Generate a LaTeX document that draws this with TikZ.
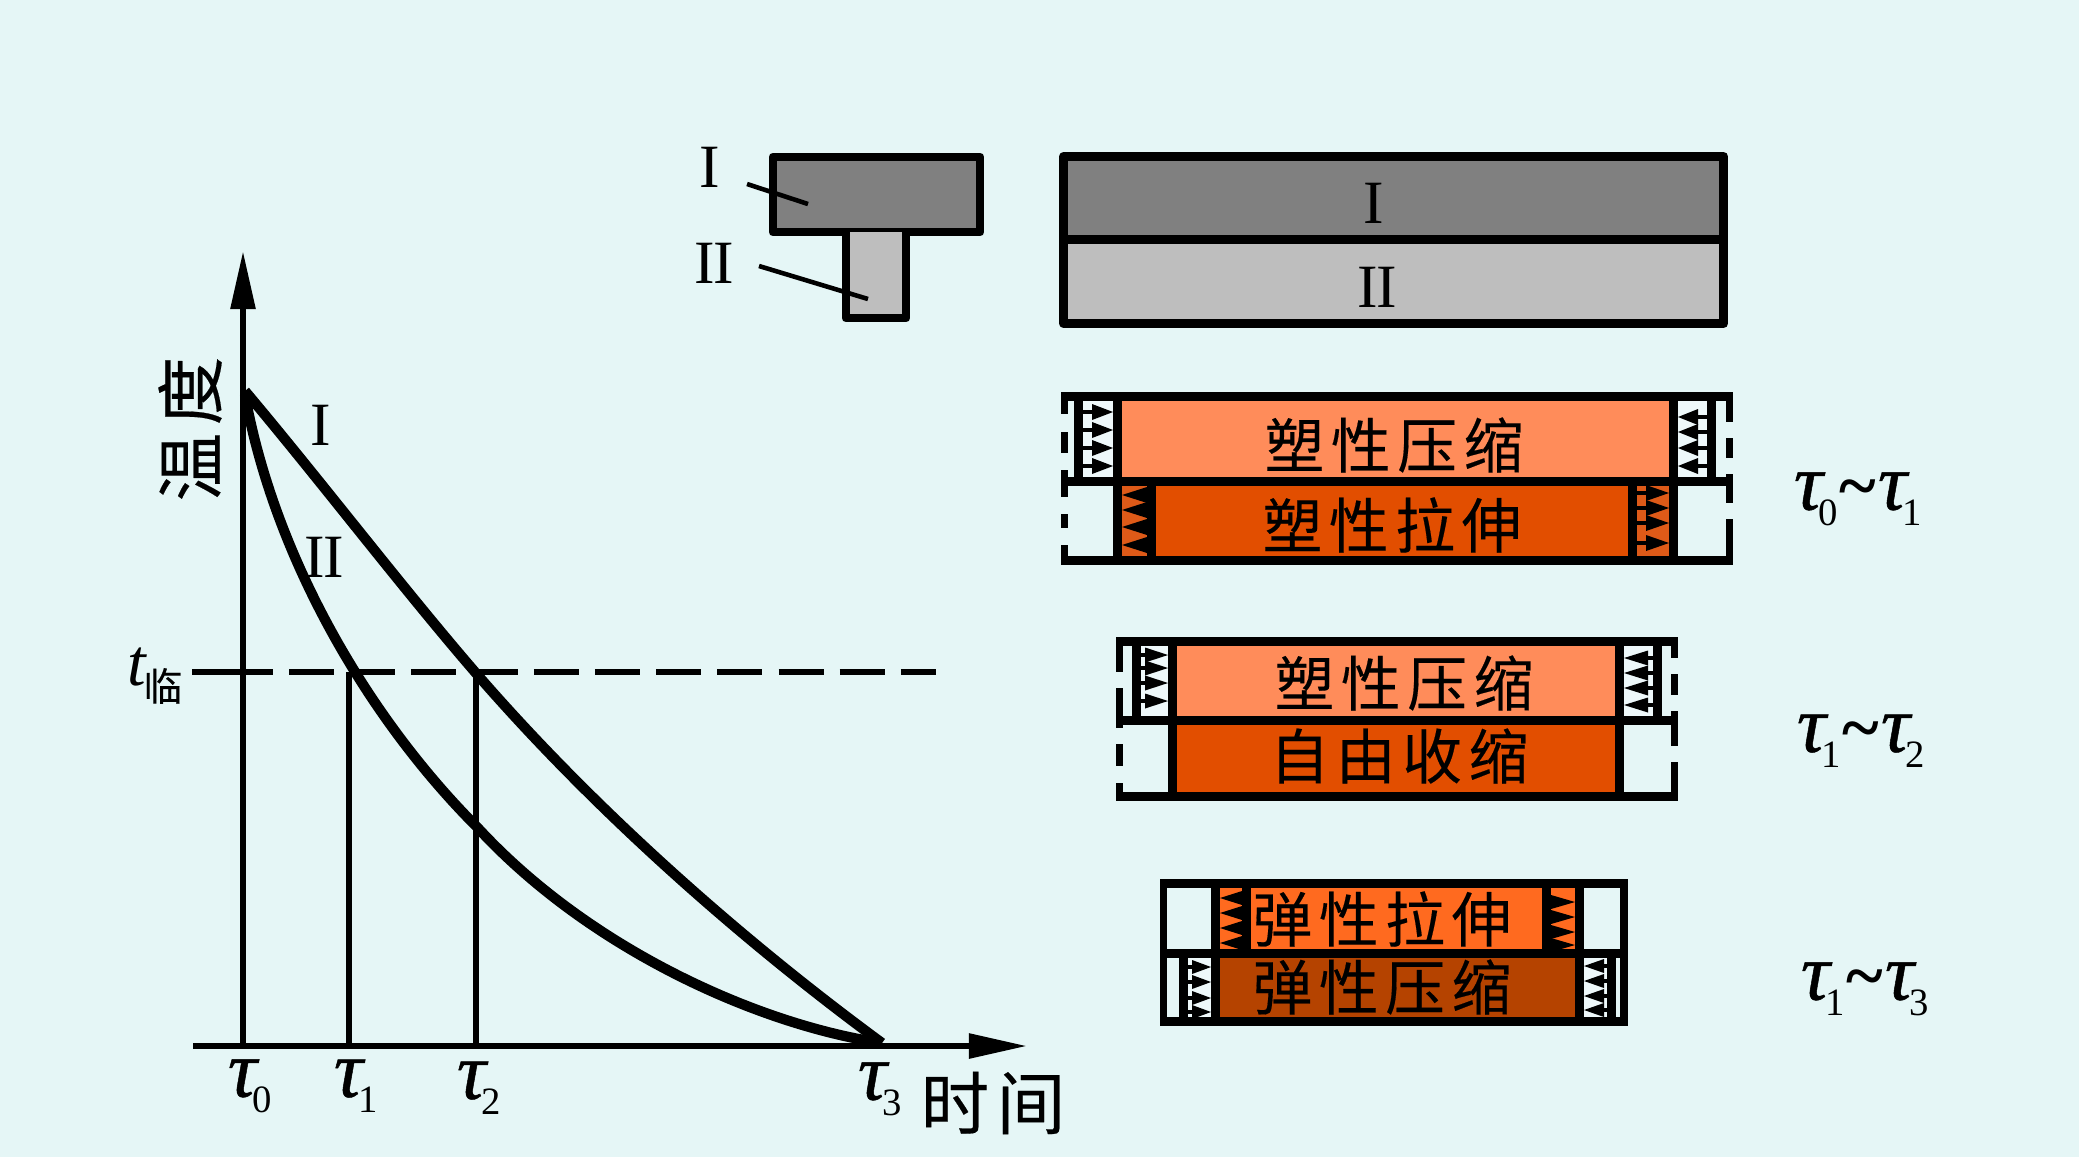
\documentclass[tikz,border=0pt]{standalone}
\usepackage{fontspec}
\setmainfont{Liberation Serif}
\newfontfamily\cjkfont[LetterSpace=11,FakeBold=0.25]{Noto Sans CJK SC}
\newfontfamily\taufont[FakeBold=0.6]{Liberation Serif Italic}
\usetikzlibrary{arrows.meta}
\definecolor{bgcolor}{HTML}{E5F6F6}
\definecolor{springbg}{HTML}{EEF8FA}
\definecolor{darkgray}{HTML}{808080}
\definecolor{lightgray}{HTML}{BEBEBE}
\definecolor{paleorange}{HTML}{FF8C5A}
\definecolor{deeporange}{HTML}{E24E00}
\definecolor{springorange}{HTML}{DE5A18}
\definecolor{brightorange}{HTML}{FF6A1F}
\definecolor{brownorange}{HTML}{B54300}
\tikzset{
	romanlabel/.style={font=\fontsize{17.5}{18}\selectfont, inner sep=0pt}
}
\tikzset{
	blocktext/.style={font=\fontsize{17}{18}\cjkfont, inner sep=0pt}
}
\tikzset{
	axistext/.style={font=\fontsize{19.5}{20}\cjkfont, inner sep=0pt}
}
\tikzset{
	taulabel/.style={font=\fontsize{23}{24}\selectfont, inner sep=0pt}
}
\tikzset{
	axisline/.style={line width=1.7pt, -{Triangle[length=1.65pt*10, width=0.68pt*10]}}
}
\tikzset{
	thinline/.style={line width=1.7pt}
}
\tikzset{
	curveline/.style={line width=2.9pt, line join=round}
}
\tikzset{
	boxline/.style={line width=2.55pt, line join=round}
}
\tikzset{
	leaderline/.style={line width=1.3pt}
}
\newcommand{\tauof}[1]{{\taufont τ}\kern-0.05em\raisebox{-0.42ex}{\fontsize{11}{12}\selectfont #1}}
\newcommand{\waveof}{\kern0.02em{\bfseries\fontsize{20}{22}\selectfont\textasciitilde}\kern0.02em}
\newcommand{\doubleone}{I\kern-0.03em I}
\newcommand{\springrow}[5]{%
	\foreach \sy in {#5} {
		\draw[line width=0.9pt] (#1,\sy) -- (#2,\sy);
		\fill (#2,\sy-#4) -- (#3,\sy) -- (#2,\sy+#4) -- cycle;
	}
}
\newcommand{\wallrow}[3]{%
	\foreach \ya/\yb in {#3} {
		\fill (#1,\ya) rectangle (#2,\yb);
	}
}
\begin{document}
\begin{tikzpicture}[x=0.01cm, y=-0.01cm]

	\useasboundingbox (0,0) rectangle (2079,1157);
	\fill[bgcolor] (0,0) rectangle (2079,1157);

	\coordinate (origin) at (243,1046);
	\coordinate (ytop) at (243,251);
	\coordinate (xleft) at (193,1046);
	\coordinate (xright) at (1027,1046);
	\coordinate (tone) at (349,672);
	\coordinate (ttwo) at (476,672);
	\coordinate (tonefoot) at (349,1046);
	\coordinate (ttwofoot) at (476,1046);
	\coordinate (dashstart) at (192,672);
	\coordinate (dashbreak) at (273,672);
	\coordinate (dashresume) at (289,672);
	\coordinate (dashend) at (936,672);

	\draw[thinline] (tone) -- (tonefoot);
	\draw[thinline] (ttwo) -- (ttwofoot);
	\draw[thinline] (dashstart) -- (dashbreak);
	\draw[thinline, dash pattern=on 12.8pt off 4.6pt] (dashresume) -- (dashend);

	\draw[curveline] (245,391) .. controls (320,480) and (400,585) .. (475,672) .. controls (590,805) and (735,935) .. (882,1043);
	\draw[curveline] (245,395) .. controls (275,560) and (370,720) .. (477,827) .. controls (590,950) and (760,1025) .. (882,1043);

	\draw[axisline] (origin) -- (ytop);
	\draw[axisline] (xleft) -- (xright);

	\node[axistext, rotate=90] (ylabel) at (190,429) {温度};
	\node[axistext] (xlabel) at (993,1103) {时间};
	\node[romanlabel] (curveone) at (321,425) {I};
	\node[romanlabel] (curvetwo) at (324,557) {\doubleone};
	\node[taulabel] (tau0) at (250,1086) {\tauof{0}};
	\node[taulabel] (tau1) at (356,1086) {\tauof{1}};
	\node[taulabel] (tau2) at (479,1088) {\tauof{2}};
	\node[taulabel] (tau3) at (880,1089) {\tauof{3}};
	\node[font=\fontsize{19}{20}\selectfont\itshape, inner sep=0pt] (tlabel) at (137,667) {t};
	\node[font=\fontsize{11}{12}\cjkfont, inner sep=0pt] (tsub) at (163,686) {临};

	\draw[boxline, fill=darkgray] (769+4,153+4) rectangle (984-4,236-4);
	\fill[lightgray] (846,232) rectangle (906,318);
	\draw[boxline] (846,232) -- (846,318) -- (906,318) -- (906,232);

	\node[romanlabel] (sectionone) at (710,167) {I};
	\node[romanlabel] (sectiontwo) at (714,263) {\doubleone};
	\coordinate (leaderonea) at (747,184);
	\coordinate (leaderoneb) at (808,204);
	\coordinate (leadertwoa) at (759,266);
	\coordinate (leadertwob) at (868,299);
	\draw[leaderline] (leaderonea) -- (leaderoneb);
	\draw[leaderline] (leadertwoa) -- (leadertwob);

	\fill[darkgray] (1063,156) rectangle (1723,240);
	\fill[lightgray] (1063,240) rectangle (1723,324);
	\draw[boxline] (1063.5,156.5) rectangle (1723.5,323.5);
	\draw[boxline] (1063.5,239.5) -- (1723.5,239.5);
	\node[romanlabel] (layerone) at (1374,203) {I};
	\node[romanlabel] (layertwo) at (1377,287) {\doubleone};

	\fill[paleorange] (1122,401) rectangle (1669,477);
	\fill[deeporange] (1156,486) rectangle (1628,556);
	\fill[springbg] (1083,401) rectangle (1113,477);
	\fill[springbg] (1678,401) rectangle (1707,477);
	\fill[springorange] (1122,486) rectangle (1147,556);
	\fill[springorange] (1637,486) rectangle (1669,556);
	\fill (1061,392) rectangle (1733,401);
	\fill (1061,477) rectangle (1733,486);
	\fill (1061,556) rectangle (1733,565);
	\wallrow{1061}{1068}{392/414,432/453,470/497,514/528,545/565}
	\wallrow{1726}{1733}{392/422,438/458,474/503,519/565}
	\fill (1074,401) rectangle (1083,477);
	\fill (1113,401) rectangle (1122,477);
	\fill (1669,401) rectangle (1678,477);
	\fill (1707,401) rectangle (1716,477);
	\fill (1113,486) rectangle (1122,556);
	\fill (1147,486) rectangle (1156,556);
	\fill (1628,486) rectangle (1637,556);
	\fill (1669,486) rectangle (1678,556);
	\springrow{1083}{1092}{1113}{8}{412,430,448,466}
	\springrow{1707}{1698}{1678}{8}{417,432,448,466}
	\springrow{1147}{1147}{1122}{8}{495,510,527,545}
	\springrow{1637}{1646}{1669}{8}{493,508,523,543}
	\node[blocktext] (plasticcomp) at (1394,445) {塑性压缩};
	\node[blocktext] (plastictens) at (1392,525) {塑性拉伸};
	\node[taulabel] (stageone) at (1858,499) {\tauof{0}\waveof\tauof{1}};

	\fill[paleorange] (1177,646) rectangle (1615,716);
	\fill[deeporange] (1177,725) rectangle (1615,792);
	\fill[springbg] (1141,646) rectangle (1168,716);
	\fill[springbg] (1624,646) rectangle (1653,716);
	\fill (1116,637) rectangle (1678,646);
	\fill (1116,716) rectangle (1678,725);
	\fill (1116,792) rectangle (1678,801);
	\wallrow{1116}{1123}{637/672,688/728,744/766,783/801}
	\wallrow{1671}{1678}{637/658,674/695,711/746,762/801}
	\fill (1132,646) rectangle (1141,716);
	\fill (1168,646) rectangle (1177,792);
	\fill (1615,646) rectangle (1624,792);
	\fill (1653,646) rectangle (1662,716);
	\springrow{1141}{1145}{1168}{7.5}{655,668,683,701}
	\springrow{1653}{1648}{1624}{7.5}{658,673,688,705}
	\node[blocktext] (plasticcomptwo) at (1404,683) {塑性压缩};
	\node[blocktext] (freeshrink) at (1399,756) {自由收缩};
	\node[taulabel] (stagetwo) at (1861,741) {\tauof{1}\waveof\tauof{2}};

	\fill[brightorange] (1220,888) rectangle (1575,949);
	\fill[brownorange] (1220,958) rectangle (1575,1017);
	\fill[springbg] (1188,958) rectangle (1211,1017);
	\fill[springbg] (1584,958) rectangle (1607,1017);
	\fill (1160,879) rectangle (1628,888);
	\fill (1160,949) rectangle (1628,958);
	\fill (1160,1017) rectangle (1628,1026);
	\fill (1160,879) rectangle (1167,1026);
	\fill (1620,879) rectangle (1628,1026);
	\fill (1211,888) rectangle (1220,1017);
	\fill (1242,888) rectangle (1251,949);
	\fill (1542,888) rectangle (1551,949);
	\fill (1575,888) rectangle (1584,1017);
	\fill (1179,958) rectangle (1188,1017);
	\fill (1607,958) rectangle (1616,1017);
	\springrow{1242}{1242}{1220}{7}{898,913,928,943}
	\springrow{1551}{1551}{1575}{7}{902,917,932,945}
	\springrow{1188}{1192}{1211}{7}{967,982,998,1012}
	\springrow{1607}{1604}{1584}{7}{966,981,996,1010}
	\node[blocktext] (elastictens) at (1382,919) {弹性拉伸};
	\node[blocktext] (elasticcomp) at (1382,987) {弹性压缩};
	\node[taulabel] (stagethree) at (1865,989) {\tauof{1}\waveof\tauof{3}};

\end{tikzpicture}
\end{document}
